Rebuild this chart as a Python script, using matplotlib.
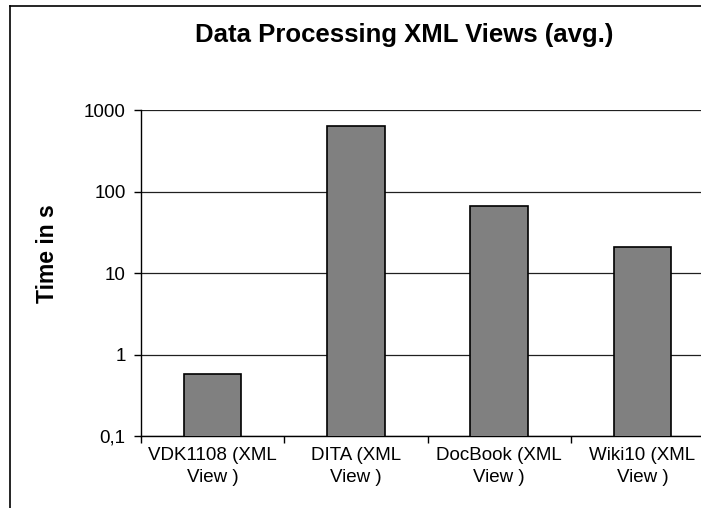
import matplotlib.pyplot as plt
import numpy as np
from matplotlib.lines import Line2D
from matplotlib.ticker import FixedLocator, FixedFormatter, NullLocator

categories = ['VDK1108 (XML\nView )', 'DITA (XML\nView )', 'DocBook (XML\nView )', 'Wiki10 (XML\nView )']
times = [0.57, 635, 66, 21]
ytick_vals = [0.1, 1, 10, 100, 1000]
ytick_labels = ['0,1', '1', '10', '100', '1000']

plt.rcParams['font.family'] = ['Liberation Sans', 'DejaVu Sans']

W, H = 701, 508
fig = plt.figure(figsize=(W / 100, H / 100), dpi=100)
ax = fig.add_axes([141 / W, (H - 436) / H, (714 - 141) / W, (436 - 110) / H])

x = np.arange(len(categories))
ax.bar(x, times, width=0.4, color='#808080', edgecolor='black', linewidth=1.2, zorder=3)

ax.set_yscale('log')
ax.set_ylim(0.1, 1000)
ax.set_xlim(-0.5, len(categories) - 0.5)
ax.yaxis.set_major_locator(FixedLocator(ytick_vals))
ax.yaxis.set_major_formatter(FixedFormatter(ytick_labels))
ax.yaxis.set_minor_locator(NullLocator())
ax.grid(axis='y', which='major', color='#202020', linewidth=0.9, zorder=0)

ax.set_xticks(x)
ax.set_xticklabels(categories, fontsize=13.5, linespacing=1.35)
ax.set_xticks(np.arange(len(categories) + 1) - 0.5, minor=True)
ax.tick_params(axis='x', which='major', length=0, pad=8)
ax.tick_params(axis='x', which='minor', length=5, width=1, direction='out')
ax.tick_params(axis='y', which='major', length=5, width=1, direction='out', labelsize=13.5, pad=6)

for s in ['top', 'right']:
    ax.spines[s].set_visible(False)
ax.spines['left'].set_linewidth(1)
ax.spines['bottom'].set_linewidth(1)

ax.set_ylabel('Time in s', fontsize=16.5, fontweight='bold')
ax.yaxis.set_label_coords(59 / W, 0.5, transform=fig.transFigure)

fig.text(404 / W, 1 - 35 / H, 'Data Processing XML Views (avg.)', ha='center', va='center',
         fontsize=18.5, fontweight='bold')

# chart area border
fig.add_artist(Line2D([10 / W, 10 / W], [0, 1 - 6 / H], color='black', linewidth=1.2))
fig.add_artist(Line2D([10 / W, 1], [1 - 6 / H, 1 - 6 / H], color='black', linewidth=1.2))

fig.savefig('out.png', dpi=100)
